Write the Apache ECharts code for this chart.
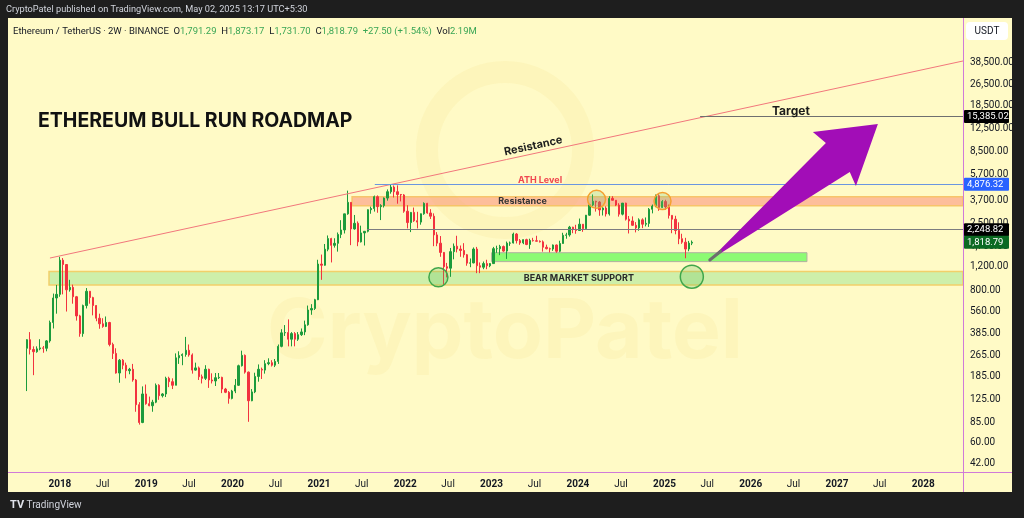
<!DOCTYPE html>
<html><head><meta charset="utf-8">
<script src="https://cdn.jsdelivr.net/npm/echarts@6/dist/echarts.min.js"></script>
<style>html,body{margin:0;padding:0;background:#1e1e1e}#c{width:1024px;height:518px}</style>
</head><body><div id="c"></div>
<script>
// ---- 2W candles: [date, open, high, low, close] ----
const c2017 = [
['2017-08-14',300,350,145,347],['2017-08-28',347,395,270,294],['2017-09-11',294,310,190,283],
['2017-09-25',283,310,278,297],['2017-10-09',297,350,290,302],['2017-10-23',302,312,278,300],
['2017-11-06',300,345,285,340],['2017-11-20',340,480,330,465],['2017-12-04',465,760,420,705],
['2017-12-18',705,880,540,750]];
const c2018 = [
['2018-01-01',750,1420,720,1340],['2018-01-15',1340,1390,750,1245],['2018-01-29',1245,1250,560,810],
['2018-02-12',810,960,785,845],['2018-02-26',845,885,640,720],['2018-03-12',720,730,480,520],
['2018-03-26',520,530,365,385],['2018-04-09',385,630,365,620],['2018-04-23',620,835,590,790],
['2018-05-07',790,795,640,710],['2018-05-21',710,720,525,620],['2018-06-04',620,625,475,500],
['2018-06-18',500,540,418,455],['2018-07-02',455,500,425,435],['2018-07-16',435,515,430,465],
['2018-07-30',465,470,310,320],['2018-08-13',320,330,250,275],['2018-08-27',275,300,195,197],
['2018-09-10',197,250,167,245],['2018-09-24',245,250,210,225],['2018-10-08',225,235,180,205],
['2018-10-22',205,215,193,210],['2018-11-05',210,230,170,175],['2018-11-19',175,178,102,115],
['2018-12-03',115,120,82,85],['2018-12-17',85,157,84,138],['2018-12-31',138,162,115,117]];
const c2019 = [
['2019-01-14',117,132,112,113],['2019-01-28',113,125,102,120],['2019-02-11',120,165,118,160],
['2019-02-25',160,163,125,134],['2019-03-11',134,140,130,138],['2019-03-25',138,185,131,180],
['2019-04-08',180,185,155,170],['2019-04-22',170,180,150,160],['2019-05-06',160,275,160,255],
['2019-05-20',255,285,230,265],['2019-06-03',265,275,225,270],['2019-06-17',270,364,260,290],
['2019-07-01',290,320,260,268],['2019-07-15',268,275,195,207],['2019-07-29',207,235,205,215],
['2019-08-12',215,220,175,185],['2019-08-26',185,192,165,180],['2019-09-09',180,225,175,210],
['2019-09-23',210,212,153,175],['2019-10-07',175,196,165,172],['2019-10-21',172,197,158,182],
['2019-11-04',182,197,178,183],['2019-11-18',183,185,140,150],['2019-12-02',150,153,140,142],
['2019-12-16',142,145,117,128],['2019-12-30',128,148,126,145]];
const c2020 = [
['2020-01-13',145,178,140,160],['2020-01-27',160,227,158,223],['2020-02-10',223,288,220,266],
['2020-02-24',266,270,195,200],['2020-03-09',200,202,86,123],['2020-03-23',123,150,122,143],
['2020-04-06',143,198,140,186],['2020-04-20',186,228,170,210],['2020-05-04',210,216,178,207],
['2020-05-18',207,245,195,231],['2020-06-01',231,253,225,235],['2020-06-15',235,245,220,225],
['2020-06-29',225,250,218,240],['2020-07-13',240,320,230,310],['2020-07-27',310,415,305,390],
['2020-08-10',390,445,370,392],['2020-08-24',392,490,310,350],['2020-09-07',350,395,310,385],
['2020-09-21',385,395,310,350],['2020-10-05',350,395,340,378],['2020-10-19',378,420,370,396],
['2020-11-02',396,480,375,447],['2020-11-16',447,620,440,575],['2020-11-30',575,635,530,590],
['2020-12-14',590,695,575,685],['2020-12-28',685,1350,680,1255]];
const c2021 = [
['2021-01-11',1255,1475,960,1230],['2021-01-25',1230,1765,1220,1615],['2021-02-08',1615,2040,1560,1935],
['2021-02-22',1935,1960,1290,1725],['2021-03-08',1725,1945,1660,1785],['2021-03-22',1785,2145,1550,2075],
['2021-04-05',2075,2645,1950,2240],['2021-04-19',2240,2950,2110,2945],['2021-05-03',2945,4370,2900,3580],
['2021-05-17',3580,3590,1730,2280],['2021-05-31',2280,2890,2250,2510],['2021-06-14',2510,2590,1700,1830],
['2021-06-28',1830,2410,1810,2130],['2021-07-12',2130,2200,1720,2190],['2021-07-26',2190,3180,2150,3160],
['2021-08-09',3160,3330,2950,3225],['2021-08-23',3225,4020,3060,3940],['2021-09-06',3940,4030,3000,3330],
['2021-09-20',3330,3470,2650,3390],['2021-10-04',3390,3890,3280,3850],['2021-10-18',3850,4460,3685,4290],
['2021-11-01',4290,4870,4150,4640],['2021-11-15',4640,4770,3890,4290],['2021-11-29',4290,4780,3500,4090],
['2021-12-13',4090,4130,3640,4060],['2021-12-27',4060,4120,3000,3080]];
const c2022 = [
['2022-01-10',3080,3410,2300,2540],['2022-01-24',2540,3040,2160,3020],['2022-02-07',3020,3280,2570,2620],
['2022-02-21',2620,3050,2300,2560],['2022-03-07',2560,2960,2450,2950],['2022-03-21',2950,3580,2900,3520],
['2022-04-04',3520,3550,2950,2990],['2022-04-18',2990,3190,2700,2830],['2022-05-02',2830,2970,1700,2060],
['2022-05-16',2060,2160,1700,1790],['2022-05-30',1790,2020,1420,1530],['2022-06-13',1530,1540,880,1200],
['2022-06-27',1200,1280,1000,1170],['2022-07-11',1170,1650,1010,1550],['2022-07-25',1550,1780,1360,1700],
['2022-08-08',1700,2030,1530,1620],['2022-08-22',1620,1720,1420,1580],['2022-09-05',1580,1790,1400,1470],
['2022-09-19',1470,1490,1220,1275],['2022-10-03',1275,1380,1190,1280],['2022-10-17',1280,1665,1270,1620],
['2022-10-31',1620,1680,1075,1220],['2022-11-14',1220,1290,1075,1190],['2022-11-28',1190,1310,1150,1265],
['2022-12-12',1265,1350,1150,1220],['2022-12-26',1220,1275,1190,1265]];
const c2023 = [
['2023-01-09',1265,1680,1260,1630],['2023-01-23',1630,1715,1520,1630],['2023-02-06',1630,1740,1460,1690],
['2023-02-20',1690,1720,1545,1565],['2023-03-06',1565,1840,1370,1790],['2023-03-20',1790,1840,1710,1795],
['2023-04-03',1795,2140,1780,2090],['2023-04-17',2090,2125,1780,1870],['2023-05-01',1870,1920,1740,1800],
['2023-05-15',1800,1910,1760,1900],['2023-05-29',1900,1930,1730,1750],['2023-06-12',1750,1930,1625,1875],
['2023-06-26',1875,1960,1840,1865],['2023-07-10',1865,2030,1845,1850],['2023-07-24',1850,1875,1810,1830],
['2023-08-07',1830,1875,1550,1670],['2023-08-21',1670,1745,1610,1630],['2023-09-04',1630,1660,1530,1620],
['2023-09-18',1620,1750,1570,1735],['2023-10-02',1735,1750,1520,1560],['2023-10-16',1560,1865,1535,1780],
['2023-10-30',1780,2135,1775,2045],['2023-11-13',2045,2135,1930,2060],['2023-11-27',2060,2400,2000,2350],
['2023-12-11',2350,2365,2120,2265],['2023-12-25',2265,2445,2100,2220]];
const c2024 = [
['2024-01-08',2220,2720,2210,2470],['2024-01-22',2470,2475,2170,2290],['2024-02-05',2290,2890,2280,2880],
['2024-02-19',2880,3480,2850,3430],['2024-03-04',3430,4095,3350,3645],['2024-03-18',3645,3680,3060,3600],
['2024-04-01',3600,3660,2850,3150],['2024-04-15',3150,3290,2865,3250],['2024-04-29',3250,3350,2815,2940],
['2024-05-13',2940,3975,2860,3830],['2024-05-27',3830,3975,3700,3710],['2024-06-10',3710,3720,3360,3420],
['2024-06-24',3420,3530,2810,2930],['2024-07-08',2930,3540,2870,3535],['2024-07-22',3535,3560,2630,2690],
['2024-08-05',2690,2840,2110,2610],['2024-08-19',2610,2820,2400,2425],['2024-09-02',2425,2560,2150,2320],
['2024-09-16',2320,2730,2210,2660],['2024-09-30',2660,2730,2310,2470],['2024-10-14',2470,2770,2380,2505],
['2024-10-28',2505,3250,2360,3185],['2024-11-11',3185,3450,2970,3360],['2024-11-25',3360,4090,3300,4000],
['2024-12-09',4000,4110,3100,3280],['2024-12-23',3280,3720,3250,3630]];
const c2025 = [
['2025-01-06',3630,3745,3150,3310],['2025-01-20',3310,3450,2720,2870],['2025-02-03',2870,2880,2120,2690],
['2025-02-17',2690,2850,2080,2220],['2025-03-03',2220,2550,1760,1930],['2025-03-17',1930,2100,1770,1820],
['2025-03-31',1820,1960,1385,1620],['2025-04-14',1620,1860,1560,1791.29],['2025-04-28',1791.29,1873.17,1731.70,1818.79]];

// ---- axes ----
const X_MIN = '2017-06-04', X_MAX = '2028-06-17';
const Y_MIN = 36.34, Y_MAX = 82130;
const yTickValues = [42,60,85,125,185,265,385,560,800,1200,1700,2500,3700,5700,8500,12500,18500,26500,38500];
const xYearTicks = ['2018-01-01','2019-01-01','2020-01-01','2021-01-01','2022-01-01','2023-01-01','2024-01-01','2025-01-01','2026-01-01','2027-01-01','2028-01-01'];
const xJulTicks = ['2018-07-01','2019-07-01','2020-07-01','2021-07-01','2022-07-01','2023-07-01','2024-07-01','2025-07-01','2026-07-01','2027-07-01'];

// ---- annotations (data coordinates) ----
const trendLine = [['2017-11-20',1390],['2028-06-17',39560]];
const targetLine = [['2025-06-01',15385.02],[X_MAX,15385.02]];
const athLine = [['2021-08-25',4876.32],[X_MAX,4876.32]];
const midLine = [['2021-07-23',2248.82],[X_MAX,2248.82]];
const resistanceZone = [['2021-05-21',3941],[X_MAX,3383]];
const bearZone = [['2017-11-16',1106],[X_MAX,879]];
const greenZone = [['2023-01-01',1522],['2026-08-27',1308]];
const greenCircles = [['2022-05-21',1002,9.5],['2025-04-27',1012,11.5]];
const orangeCircles = [['2024-03-20',3772,9],['2024-12-24',3664,8.5]];
const arrowPts = [['2025-07-12',1344],['2027-02-24',5998],['2027-03-22',4727],['2027-06-23',13560],['2026-09-21',11836],['2026-11-15',9817]];
const priceTags = [[15385.02,'#000000'],[4876.32,'#2962ff'],[2248.82,'#000000'],[1818.79,'#0b6a22']];
const texts = [
  {t:'Resistance', at:['2023-06-26',9330], font:'bold 11px Inter, Roboto, sans-serif', fill:'#1f1f1f', rot:true},
  {t:'ATH Level', at:['2023-07-25',5236], font:'bold 9px Inter, Roboto, sans-serif', fill:'#f0454f'},
  {t:'Resistance', at:['2023-05-12',3634], font:'bold 9px Inter, Roboto, sans-serif', fill:'#333333'},
  {t:'BEAR MARKET SUPPORT', at:['2024-01-05',982], font:'bold 9px Inter, Roboto, sans-serif', fill:'#2a2a2a'},
  {t:'Target', at:['2026-06-20',16770], font:'bold 12px Inter, Roboto, sans-serif', fill:'#1a1a1a'}
];

const UP = '#1c9b3c', DOWN = '#f2323f';
const T = s => Date.UTC(+s.slice(0,4), +s.slice(5,7) - 1, +s.slice(8,10));
const candles = [].concat(c2017,c2018,c2019,c2020,c2021,c2022,c2023,c2024,c2025)
  .map(r => [T(r[0]), r[1], r[4], r[3], r[2]]);
const fmtPrice = v => {
  const s = Number(v).toFixed(2); const parts = s.split('.');
  return parts[0].replace(/\B(?=(\d{3})+(?!\d))/g, ',') + '.' + parts[1];
};
const FONT = 'Inter, Roboto, sans-serif';
const UI = 'Roboto, Inter, sans-serif';

const chart = echarts.init(document.getElementById('c'), null, {renderer:'canvas'});
chart.setOption({
  animation:false,
  backgroundColor:'#fffac6',
  grid:{left:10, right:61, top:18, bottom:45.5, containLabel:false, outerBoundsMode:'none'},
  xAxis:{type:'value', min:T(X_MIN), max:T(X_MAX), scale:true,
    axisLine:{show:false}, axisTick:{show:false}, splitLine:{show:false},
    axisLabel:{customValues: xYearTicks.concat(xJulTicks).map(T), margin:7, fontSize:10, color:'#131722', fontFamily:UI,
      formatter: v => { const d = new Date(v); return d.getUTCMonth() === 0 ? '{y|' + d.getUTCFullYear() + '}' : 'Jul'; },
      rich:{y:{fontWeight:'bold', fontSize:10, color:'#131722', fontFamily:UI}}}},
  yAxis:{type:'log', logBase:10, min:Y_MIN, max:Y_MAX, position:'right',
    axisLine:{show:false}, axisTick:{show:false}, splitLine:{show:false},
    axisLabel:{customValues:yTickValues, formatter:fmtPrice, margin:7, fontSize:10, color:'#131722', fontFamily:UI}},
  series:[{
    type:'candlestick', data:candles, encode:{x:0, y:[1,2,3,4]},
    barWidth:1.8,
    itemStyle:{color:UP, color0:DOWN, borderColor:UP, borderColor0:DOWN, borderWidth:1},
    markArea:{silent:true, data:[
      [{coord:[T(bearZone[0][0]), bearZone[0][1]], itemStyle:{color:'rgba(190,235,160,0.75)', borderColor:'#f2cf6a', borderWidth:1.5}}, {coord:[T(bearZone[1][0]), bearZone[1][1]]}],
      [{coord:[T(resistanceZone[0][0]), resistanceZone[0][1]], itemStyle:{color:'rgba(252,170,140,0.75)', borderColor:'#f7c46a', borderWidth:1.5}}, {coord:[T(resistanceZone[1][0]), resistanceZone[1][1]]}],
      [{coord:[T(greenZone[0][0]), greenZone[0][1]], itemStyle:{color:'rgba(120,250,100,0.85)', borderColor:'#b0b0a0', borderWidth:1}}, {coord:[T(greenZone[1][0]), greenZone[1][1]]}]
    ]},
    markLine:{silent:true, symbol:['none','none'], label:{show:false}, data:[
      [{coord:[T(trendLine[0][0]), trendLine[0][1]], lineStyle:{color:'#f2777c', width:1, type:'solid'}}, {coord:[T(trendLine[1][0]), trendLine[1][1]]}],
      [{coord:[T(targetLine[0][0]), targetLine[0][1]], lineStyle:{color:'#6f6f6f', width:1, type:'solid'}}, {coord:[T(targetLine[1][0]), targetLine[1][1]]}],
      [{coord:[T(athLine[0][0]), athLine[0][1]], lineStyle:{color:'#6a96e0', width:1, type:'solid'}}, {coord:[T(athLine[1][0]), athLine[1][1]]}],
      [{coord:[T(midLine[0][0]), midLine[0][1]], lineStyle:{color:'#7c7c80', width:1, type:'solid'}}, {coord:[T(midLine[1][0]), midLine[1][1]]}]
    ]}
  }]
});

const P = (d, v) => chart.convertToPixel({gridIndex:0}, [T(d), v]);
const g = [];
// watermark
g.push({type:'circle', z:1, silent:true, shape:{cx:505, cy:150, r:78}, style:{fill:'none', stroke:'rgba(235,205,80,0.09)', lineWidth:22}});
g.push({type:'text', z:1, silent:true, style:{text:'CryptoPatel', x:505, y:333, align:'center', verticalAlign:'middle', font:'bold 82px ' + FONT, fill:'rgba(225,195,70,0.08)'}});
// title
g.push({type:'text', z:100, silent:true, style:{text:'ETHEREUM BULL RUN ROADMAP', x:38, y:121, align:'left', verticalAlign:'middle', font:'bold 19.5px ' + FONT, fill:'#111111'}});
// circles
greenCircles.forEach(c => { const p = P(c[0], c[1]); g.push({type:'circle', z:100, silent:true, shape:{cx:p[0], cy:p[1], r:c[2]}, style:{fill:'rgba(90,190,90,0.25)', stroke:'#3fa64a', lineWidth:1.5}}); });
orangeCircles.forEach(c => { const p = P(c[0], c[1]); g.push({type:'circle', z:100, silent:true, shape:{cx:p[0], cy:p[1], r:c[2]}, style:{fill:'rgba(120,200,120,0.25)', stroke:'#f5a030', lineWidth:1.5}}); });
// arrow
const ap = arrowPts.map(a => P(a[0], a[1]));
g.push({type:'polygon', z:100, silent:true, shape:{points:ap}, style:{fill:'#a20db7'}});
{ const a = ap[0], tip = ap[3]; const dx = tip[0]-a[0], dy = tip[1]-a[1], L = Math.hypot(dx,dy);
  g.push({type:'line', z:101, silent:true, shape:{x1:a[0], y1:a[1], x2:a[0]+dx/L*14, y2:a[1]+dy/L*14}, style:{stroke:'#6e6e6e', lineWidth:3, lineCap:'round'}}); }
// texts
const tl0 = P(trendLine[0][0], trendLine[0][1]), tl1 = P(trendLine[1][0], trendLine[1][1]);
const rot = Math.atan2(tl0[1]-tl1[1], tl1[0]-tl0[0]);
texts.forEach(t => { const p = P(t.at[0], t.at[1]);
  g.push({type:'text', z:100, silent:true, x:p[0], y:p[1], rotation: t.rot ? rot : 0,
    style:{text:t.t, x:0, y:0, align:'center', verticalAlign:'middle', font:t.font, fill:t.fill}}); });
// price tags
priceTags.forEach(pt => { const y = P(X_MAX, pt[0])[1];
  g.push({type:'rect', z:150, silent:true, shape:{x:964, y:y-6.5, width:45, height:13, r:1}, style:{fill:pt[1]}});
  g.push({type:'text', z:151, silent:true, style:{text:fmtPrice(pt[0]), x:967, y:y, align:'left', verticalAlign:'middle', font:'9.5px ' + UI, fill:'#ffffff'}}); });
// USDT box
g.push({type:'rect', z:150, silent:true, shape:{x:966, y:22, width:42, height:18, r:4}, style:{fill:'#ffffff'}});
g.push({type:'text', z:151, silent:true, style:{text:'USDT', x:987, y:31, align:'center', verticalAlign:'middle', font:'10px ' + UI, fill:'#131722'}});
// pane separators
g.push({type:'line', z:140, silent:true, shape:{x1:963.5, y1:18, x2:963.5, y2:492}, style:{stroke:'#d07ad8', lineWidth:1}});
g.push({type:'line', z:140, silent:true, shape:{x1:8, y1:472.5, x2:1012, y2:472.5}, style:{stroke:'#d07ad8', lineWidth:1}});
// legend
g.push({type:'text', z:150, silent:true, style:{x:13, y:32, verticalAlign:'middle', font:'9.5px ' + UI,
  text:'{n|Ethereum / TetherUS · 2W · BINANCE}  {n|O}{v|1,791.29}  {n|H}{v|1,873.17}  {n|L}{v|1,731.70}  {n|C}{v|1,818.79}  {v|+27.50 (+1.54%)}  {n|Vol}{v|2.19M}',
  rich:{n:{fill:'#131722', font:'9.5px ' + UI}, v:{fill:'#3aa655', font:'9.5px ' + UI}}}});
// dark frame
g.push({type:'rect', z:200, silent:true, shape:{x:0, y:0, width:1024, height:18}, style:{fill:'#1e1e1e'}});
g.push({type:'rect', z:200, silent:true, shape:{x:0, y:0, width:8, height:518}, style:{fill:'#1e1e1e'}});
g.push({type:'rect', z:200, silent:true, shape:{x:1012, y:0, width:12, height:518}, style:{fill:'#1e1e1e'}});
g.push({type:'rect', z:200, silent:true, shape:{x:0, y:492, width:1024, height:26}, style:{fill:'#1e1e1e'}});
g.push({type:'text', z:201, silent:true, style:{text:'CryptoPatel published on TradingView.com, May 02, 2025 13:17 UTC+5:30', x:6, y:10, verticalAlign:'middle', font:'9.2px ' + UI, fill:'#d1d4dc'}});
g.push({type:'text', z:201, silent:true, style:{x:10, y:505, verticalAlign:'middle', font:'10px ' + UI, fill:'#d1d4dc',
  text:'{b|TV} TradingView', rich:{b:{font:'bold 11px ' + UI, fill:'#e0e3eb'}}}});
chart.setOption({graphic:{elements:g}});
</script></body></html>
